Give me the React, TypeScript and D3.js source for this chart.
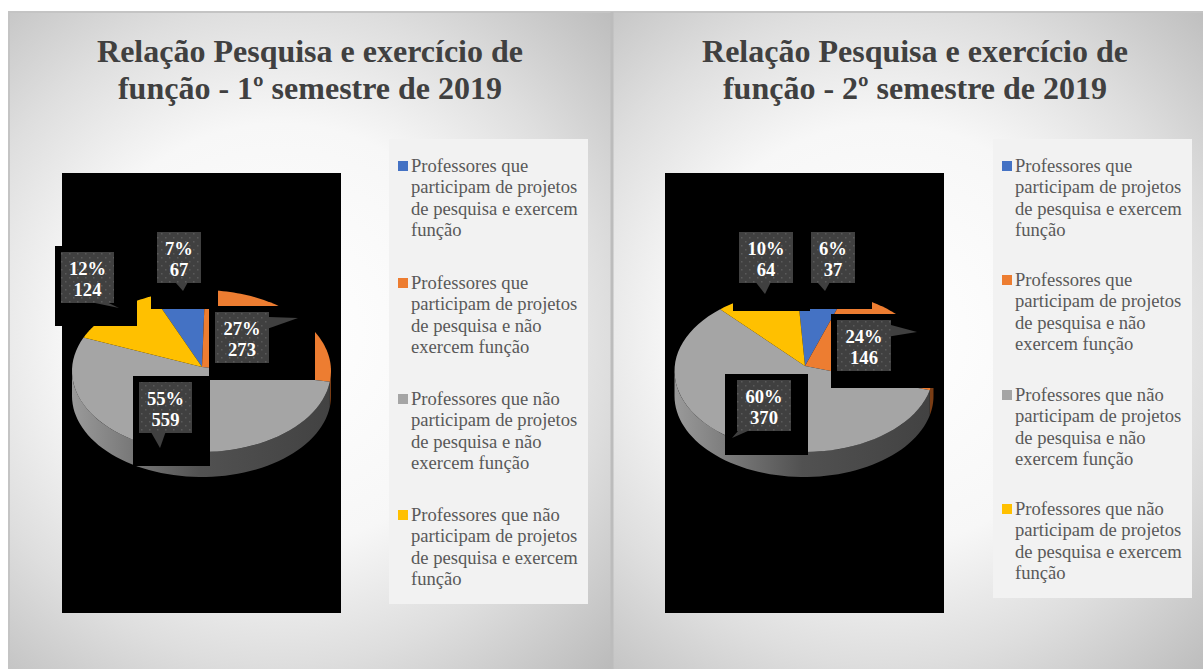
import React from "react";
import * as d3 from "d3";

const seriesNames = [
  ["Professores que", "participam de projetos", "de pesquisa e exercem", "função"],
  ["Professores que", "participam de projetos", "de pesquisa e não", "exercem função"],
  ["Professores que não", "participam de projetos", "de pesquisa e não", "exercem função"],
  ["Professores que não", "participam de projetos", "de pesquisa e exercem", "função"],
];
const sliceColors = ["#4472C4", "#ED7D31", "#A5A5A5", "#FFC000"];
const wallColors = ["#2f4f88", "#7a3d15", "url(#wall)", "#b08500"];
const firstValues = [67, 273, 559, 124];
const firstPercents = ["7%", "27%", "55%", "12%"];
const secondValues = [37, 146, 370, 64];
const secondPercents = ["6%", "24%", "60%", "10%"];
const firstTitle = ["Relação Pesquisa e exercício de", "função - 1º semestre de 2019"];
const secondTitle = ["Relação Pesquisa e exercício de", "função - 2º semestre de 2019"];

type Box = { mask: number[]; box: number[]; tip: number[] };
const firstBoxes: Box[] = [
  { mask: [151, 226, 218, 309], box: [157, 232, 201, 283], tip: [183, 291] },
  { mask: [209, 306, 315, 380], box: [215, 312, 269, 363], tip: [298, 318] },
  { mask: [133, 376, 210, 466], box: [139, 382, 192, 433], tip: [160, 448] },
  { mask: [55, 246, 137, 326], box: [61, 252, 114, 303], tip: [119, 308] },
];
const secondBoxes: Box[] = [
  { mask: [805, 226, 872, 309], box: [811, 232, 855, 283], tip: [825, 291] },
  { mask: [831, 314, 934, 388], box: [837, 320, 891, 371], tip: [917, 332] },
  { mask: [725, 374, 808, 455], box: [737, 380, 791, 431], tip: [732, 438] },
  { mask: [733, 226, 810, 311], box: [739, 232, 793, 283], tip: [765, 294] },
];

const RX = 129.5;
const RY = 81;
const DEPTH = 25;
const rad = (d: number) => (d * Math.PI) / 180;

function Pie(props: {
  cx: number; cy: number; apexX: number; apexY: number; start: number;
  values: number[]; percents: string[]; boxes: Box[];
}) {
  const { cx, cy, apexX, apexY, start, values, percents, boxes } = props;
  const slices = d3.pie<number>().sort(null).startAngle(rad(start)).endAngle(rad(start + 360))(values);
  const pt = (a: number): [number, number] => [cx + Math.sin(a) * RX, cy - Math.cos(a) * RY];
  const line = d3.line();
  const sample = (a0: number, a1: number) => d3.range(0, 61).map((i) => pt(a0 + ((a1 - a0) * i) / 60));
  return (
    <g>
      {slices.map((s, i) => {
        const parts = [0, 2 * Math.PI].map((off) => [
          Math.max(s.startAngle + off, Math.PI / 2),
          Math.min(s.endAngle + off, (3 * Math.PI) / 2),
        ]);
        return parts
          .filter(([a, b]) => b > a)
          .map(([a, b], k) => {
            const top = sample(a, b);
            const low = top.map(([x, y]) => [x, y + DEPTH] as [number, number]).reverse();
            return <path key={`w${i}${k}`} d={line([...top, ...low]) + "Z"} fill={wallColors[i]} />;
          });
      })}
      {slices.map((s, i) => (
        <path
          key={i}
          d={line([[apexX, apexY], ...sample(s.startAngle, s.endAngle)]) + "Z"}
          fill={sliceColors[i]}
        />
      ))}
      {boxes.map((b, i) => (
        <rect key={i} x={b.mask[0]} y={b.mask[1]} width={b.mask[2] - b.mask[0]} height={b.mask[3] - b.mask[1]} fill="#000" />
      ))}
      {boxes.map((b, i) => {
        const [x0, y0, x1, y1] = b.box;
        const mx = (x0 + x1) / 2;
        const my = (y0 + y1) / 2;
        const [tx, ty] = b.tip;
        const vertical = ty > y1 && tx > x0 + 4;
        const w = (x1 - x0) * 0.2;
        const h = (y1 - y0) * 0.2;
        const clampX = Math.min(Math.max(tx, x0 + w), x1 - w);
        const base: [number, number][] = vertical
          ? [[clampX - w * 0.8, y1], [clampX + w * 0.5, y1]]
          : tx > x1 && ty < y1
          ? [[x1, y0 + h * 0.5], [x1, y0 + h * 1.6]]
          : [[x0 + 1, y1], [x0 + w, y1]];
        return (
          <g key={`c${i}`}>
            <path d={line([[x0, y0], [x1, y0], [x1, y1], [x0, y1]]) + "Z"} fill="url(#dots)" />
            <path d={line([base[0], [tx, ty], base[1]]) + "Z"} fill="#404040" />
            <text x={mx} y={my - 2.5} textAnchor="middle" fontFamily="'Liberation Serif'" fontWeight="bold" fontSize={18.6} fill="#fff">{percents[i]}</text>
            <text x={mx} y={my + 18} textAnchor="middle" fontFamily="'Liberation Serif'" fontWeight="bold" fontSize={18.6} fill="#fff">{values[i]}</text>
          </g>
        );
      })}
    </g>
  );
}

function Legend(props: { x: number; y: number; w: number; h: number; tops: number[]; lh: number }) {
  const { x, y, w, h, tops, lh } = props;
  return (
    <g>
      <rect x={x} y={y} width={w} height={h} fill="#F2F2F2" />
      {seriesNames.map((lines, i) => (
        <g key={i}>
          <rect x={x + 9} y={tops[i] - 5} width={10} height={10} fill={sliceColors[i]} />
          {lines.map((t, j) => (
            <text key={j} x={x + 22} y={tops[i] + j * lh + 6} fontFamily="'Liberation Serif'" fontSize={18.6} fill="#595959">{t}</text>
          ))}
        </g>
      ))}
    </g>
  );
}

function Title({ lines, cx }: { lines: string[]; cx: number }) {
  return (
    <g>
      {lines.map((t, i) => (
        <text key={i} x={cx} y={62 + i * 37} textAnchor="middle" fontFamily="'Liberation Serif'" fontWeight="bold" fontSize={32} fill="#404040">{t}</text>
      ))}
    </g>
  );
}

function Glow({ id, cx }: { id: string; cx: number }) {
  return (
    <radialGradient id={id} gradientUnits="userSpaceOnUse" cx={cx} cy={335} r={470}>
      <stop offset="0" stopColor="#ffffff" />
      <stop offset="0.45" stopColor="#f7f7f7" />
      <stop offset="0.7" stopColor="#dedede" />
      <stop offset="1" stopColor="#bbbbbb" />
    </radialGradient>
  );
}

export default function App() {
  return (
    <svg width={1203} height={669} style={{ position: "absolute", left: 0, top: 0, display: "block" }}>
      <defs>
        <Glow id="bg1" cx={280} />
        <Glow id="bg2" cx={885} />
        <linearGradient id="wall" x1="0" x2="1" y1="0" y2="0">
          <stop offset="0" stopColor="#9a9a9a" />
          <stop offset="0.5" stopColor="#515151" />
          <stop offset="1" stopColor="#424242" />
        </linearGradient>
        <pattern id="dots" width={8} height={8} patternUnits="userSpaceOnUse">
          <rect width={8} height={8} fill="#404040" />
          <rect x={1} y={1} width={1.5} height={1.5} fill="#5a5a5a" />
          <rect x={5} y={5} width={1.5} height={1.5} fill="#5a5a5a" />
        </pattern>
      </defs>
      <rect width={1203} height={669} fill="#fff" />
      <rect x={8} y={12} width={604} height={657} fill="url(#bg1)" />
      <rect x={612} y={12} width={591} height={657} fill="url(#bg2)" />
      <rect x={8} y={11} width={1195} height={2} fill="#c4c4c4" />
      <rect x={8} y={12} width={2} height={657} fill="#c4c4c4" />
      <rect x={610.5} y={12} width={3} height={657} fill="#bcbcbc" />

      <Title lines={firstTitle} cx={310} />
      <Title lines={secondTitle} cx={915} />

      <rect x={62} y={173} width={279} height={440} fill="#000" />
      <rect x={665} y={173} width={279} height={440} fill="#000" />

      <Pie cx={201.5} cy={371} apexX={202} apexY={367} start={-22} values={firstValues} percents={firstPercents} boxes={firstBoxes} />
      <Pie cx={804} cy={371} apexX={805} apexY={366} start={-3} values={secondValues} percents={secondPercents} boxes={secondBoxes} />

      <Legend x={389} y={139} w={199} h={465} tops={[166, 283, 399, 515]} lh={21.3} />
      <Legend x={993} y={139} w={199} h={459} tops={[166, 280, 395, 509]} lh={21.3} />
    </svg>
  );
}
